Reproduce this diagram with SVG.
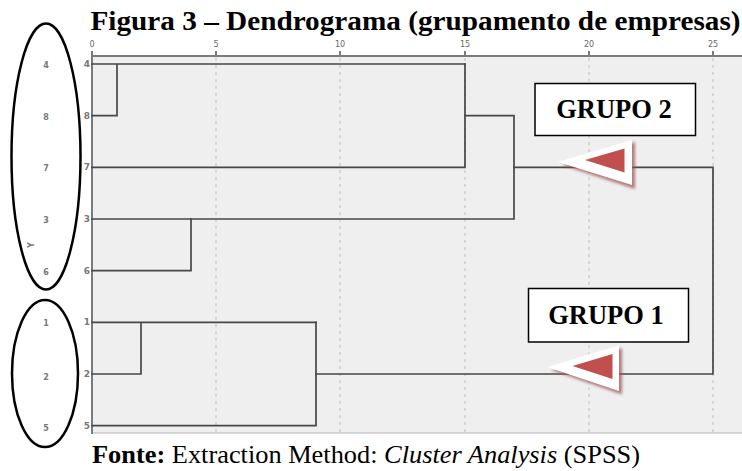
<svg xmlns="http://www.w3.org/2000/svg" width="742" height="471" viewBox="0 0 742 471">
  <defs>
    <style>
      .title { font-family: "Liberation Serif", "Times New Roman", serif; font-weight: bold; font-size: 27px; fill: #000; }
      .foot { font-family: "Liberation Serif", "Times New Roman", serif; font-size: 26px; fill: #000; }
      .tick { font-family: "DejaVu Sans", "Liberation Sans", sans-serif; font-size: 8px; fill: #666; text-anchor: middle; }
      .row { font-family: "DejaVu Sans", "Liberation Sans", sans-serif; font-size: 9px; font-weight: bold; fill: #777; text-anchor: end; }
      .oval-lbl { font-family: "DejaVu Sans", "Liberation Sans", sans-serif; font-size: 8px; font-weight: bold; fill: #777; text-anchor: middle; }
      .grid { stroke: #cfcfcf; stroke-width: 1.5; stroke-dasharray: 3 4; fill: none; }
      .axis { stroke: #7a7a7a; stroke-width: 2; fill: none; }
      .link { stroke: #474747; stroke-width: 1.7; fill: none; stroke-linecap: square; }
      .oval { fill: none; stroke: #000; stroke-width: 2.5; }
      .gbox { fill: #fff; stroke: #000; stroke-width: 1.5; }
      .glbl { font-family: "Liberation Serif", "Times New Roman", serif; font-weight: bold; font-size: 26.5px; fill: #000; text-anchor: middle; }
      .arrow-red { fill: #c0504d; }
      .arrow-white { fill: #fff; }
      .arrow-shadow { fill: #9c5252; opacity: 0.75; filter: url(#soft); }
    </style>
    <filter id="soft" x="-20%" y="-20%" width="140%" height="140%">
      <feGaussianBlur stdDeviation="1.4"/>
    </filter>
  </defs>

  <rect width="742" height="471" fill="#fff"/>

  <!-- title -->
  <text class="title" x="90.5" y="29.5" textLength="650" lengthAdjust="spacingAndGlyphs">Figura 3 – Dendrograma (grupamento de empresas)</text>

  <!-- plot area -->
  <rect x="92" y="56" width="650" height="377" fill="#efefef"/>
  <g id="grid">
    <line class="grid" x1="216" y1="58" x2="216" y2="433"/>
    <line class="grid" x1="340" y1="58" x2="340" y2="433"/>
    <line class="grid" x1="465" y1="58" x2="465" y2="433"/>
    <line class="grid" x1="589" y1="58" x2="589" y2="433"/>
    <line class="grid" x1="713" y1="58" x2="713" y2="433"/>
  </g>
  <line x1="92" y1="433" x2="742" y2="433" stroke="#b5b5b5" stroke-width="1"/>

  <!-- distance axis -->
  <g id="axis-x">
    <line class="axis" x1="92" y1="56" x2="742" y2="56"/>
    <path class="axis" d="M92 51V56M216 51V56M340 51V56M465 51V56M589 51V56M713 51V56" stroke-width="1.5"/>
    <text class="tick" x="92" y="47">0</text>
    <text class="tick" x="216" y="47">5</text>
    <text class="tick" x="340" y="47">10</text>
    <text class="tick" x="465" y="47">15</text>
    <text class="tick" x="589" y="47">20</text>
    <text class="tick" x="713" y="47">25</text>
  </g>

  <!-- case axis -->
  <g id="axis-y">
    <line class="axis" x1="92" y1="52" x2="92" y2="434"/>
    <text class="row" x="90" y="67">4</text>
    <text class="row" x="90" y="119">8</text>
    <text class="row" x="90" y="170">7</text>
    <text class="row" x="90" y="222">3</text>
    <text class="row" x="90" y="274">6</text>
    <text class="row" x="90" y="325">1</text>
    <text class="row" x="90" y="377">2</text>
    <text class="row" x="90" y="429">5</text>
  </g>

  <!-- dendrogram links -->
  <g id="connectors">
    <!-- 4 + 8 -->
    <path class="link" d="M92 64H465M117 64V115.7M92 115.7H117"/>
    <!-- (4,8) + 7 -->
    <path class="link" d="M465 64V167.3M92 167.3H465"/>
    <!-- 3 + 6 -->
    <path class="link" d="M92 219H191M191 219V270.7M92 270.7H191"/>
    <!-- (4,8,7) + (3,6) -->
    <path class="link" d="M465 115.7H514M514 115.7V219M191 219H514"/>
    <!-- 1 + 2 -->
    <path class="link" d="M92 322.4H316M141 322.4V374M92 374H141"/>
    <!-- (1,2) + 5 -->
    <path class="link" d="M316 322.4V425.7M92 425.7H316"/>
    <!-- top-level join -->
    <path class="link" d="M514 167.3H713M713 167.3V374M316 374H713"/>
  </g>

  <!-- highlighted case sets -->
  <g id="set-upper">
    <ellipse class="oval" cx="46" cy="156.5" rx="34.5" ry="133"/>
    <text class="oval-lbl" x="46" y="68">4</text>
    <text class="oval-lbl" x="46" y="120">8</text>
    <text class="oval-lbl" x="46" y="171">7</text>
    <text class="oval-lbl" x="46" y="223">3</text>
    <text class="oval-lbl" x="46" y="275">6</text>
    <text class="oval-lbl" transform="translate(34 245) rotate(-90)">Y</text>
  </g>
  <g id="set-lower">
    <ellipse class="oval" cx="45" cy="373.5" rx="33" ry="73.5"/>
    <text class="oval-lbl" x="46" y="326">1</text>
    <text class="oval-lbl" x="46" y="380">2</text>
    <text class="oval-lbl" x="46" y="431">5</text>
  </g>

  <!-- group labels -->
  <g id="grupo-2">
    <rect class="gbox" x="535" y="83.5" width="160.5" height="52"/>
    <text class="glbl" x="614" y="118">GRUPO 2</text>
  </g>
  <g id="grupo-1">
    <rect class="gbox" x="528.5" y="288.5" width="160" height="53.5"/>
    <text class="glbl" x="606" y="323.5">GRUPO 1</text>
  </g>

  <!-- pointer arrows -->
  <g id="arrow-2">
    <polygon class="arrow-shadow" points="562,165 635,142 635,189"/>
    <polygon class="arrow-white" points="558,162 632,140 632,185"/>
    <polygon class="arrow-red" points="585,160 624.5,148.5 624.5,172.5"/>
  </g>
  <g id="arrow-1">
    <polygon class="arrow-shadow" points="551,370 622,348 622,394.5"/>
    <polygon class="arrow-white" points="547,367 619,345.5 619,391"/>
    <polygon class="arrow-red" points="572.5,366 612.5,354 612.5,379"/>
  </g>

  <!-- source line -->
  <text class="foot" x="92" y="463" textLength="548" lengthAdjust="spacingAndGlyphs"><tspan font-weight="bold">Fonte:</tspan> Extraction Method: <tspan font-style="italic">Cluster Analysis</tspan> (SPSS)</text>
</svg>
